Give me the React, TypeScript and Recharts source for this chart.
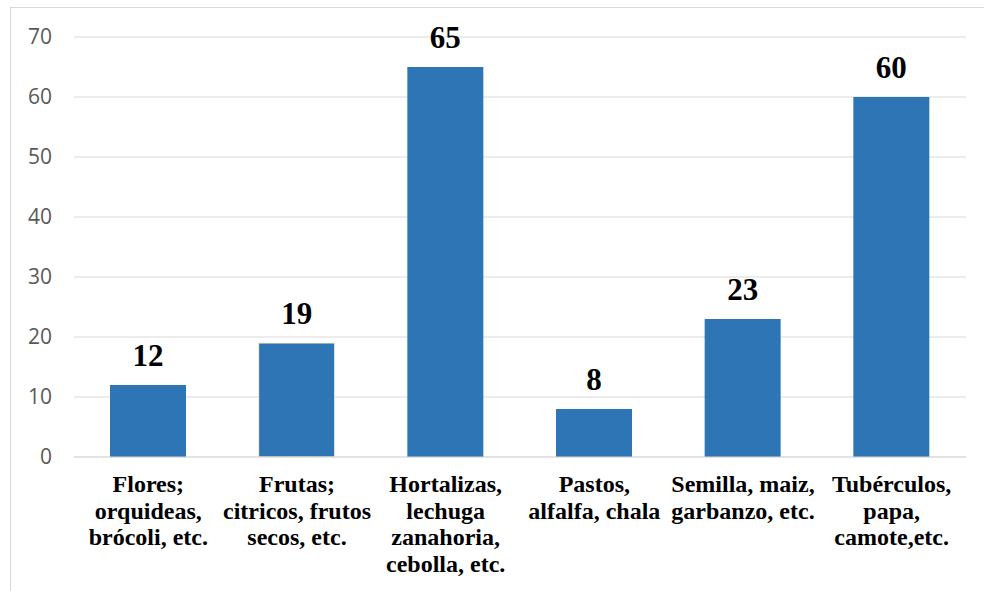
import React from 'react';
import { BarChart, Bar, XAxis, YAxis, CartesianGrid, LabelList, Cell } from 'recharts';

const categories = [
  'Flores;\norquideas,\nbrócoli, etc.',
  'Frutas;\ncitricos, frutos\nsecos, etc.',
  'Hortalizas,\nlechuga\nzanahoria,\ncebolla, etc.',
  'Pastos,\nalfalfa, chala',
  'Semilla, maiz,\ngarbanzo, etc.',
  'Tubérculos,\npapa,\ncamote,etc.',
];
const values = [12, 19, 65, 8, 23, 60];
const yTicks = [0, 10, 20, 30, 40, 50, 60, 70];

const data = categories.map((c, i) => ({ name: c, value: values[i] }));

const SERIF = 'Liberation Serif';

function CategoryTick(props: any) {
  const { x, y, payload } = props;
  const lines = String(payload.value).split('\n');
  return (
    <g className="cat-tick">
      {lines.map((l, i) => (
        <text
          key={i}
          x={x}
          y={y + 27 + i * 26.7}
          textAnchor="middle"
          fill="#000000"
          fontFamily={SERIF}
          fontWeight="bold"
          fontSize="24"
        >
          {l}
        </text>
      ))}
    </g>
  );
}

export default function App() {
  return (
    <div
      style={{
        position: 'absolute',
        left: 0,
        top: 0,
        width: 984,
        height: 591,
        overflow: 'hidden',
        background: '#fff',
        fontFamily: '"Liberation Serif", serif',
      }}
    >
      <div
        style={{
          position: 'absolute',
          left: 10,
          top: 7,
          width: 1100,
          height: 700,
          border: '1px solid #D9D9D9',
          boxSizing: 'border-box',
        }}
      />
      <div style={{ position: 'absolute', left: 0, top: 0 }}>
        <BarChart width={984} height={591} data={data} margin={{ top: 37, right: 18, bottom: 0, left: 0 }}>
          <CartesianGrid vertical={false} stroke="#D9D9D9" strokeWidth={1} />
          <XAxis
            dataKey="name"
            interval={0}
            height={134}
            tickLine={false}
            axisLine={{ stroke: '#D9D9D9' }}
            tick={<CategoryTick />}
            tickSize={6}
            tickMargin={2}
          />
          <YAxis
            domain={[0, 70]}
            ticks={yTicks}
            width={74}
            axisLine={false}
            tickLine={false}
            tickSize={6}
            tickMargin={16}
            tick={{ fill: '#595959', fontSize: 21, fontFamily: 'Open Sans' }}
          />
          <Bar dataKey="value" fill="#2E75B6" barSize={76} isAnimationActive={false}>
            {values.map((v, i) => (
              <Cell key={i} stroke={i === 1 ? '#FCEFC7' : 'none'} strokeWidth={i === 1 ? 1 : 0} />
            ))}
            <LabelList
              dataKey="value"
              position="top"
              offset={19}
              fill="#000000"
              style={{ fontFamily: SERIF, fontWeight: 700, fontSize: 31 }}
            />
          </Bar>
        </BarChart>
      </div>
    </div>
  );
}
